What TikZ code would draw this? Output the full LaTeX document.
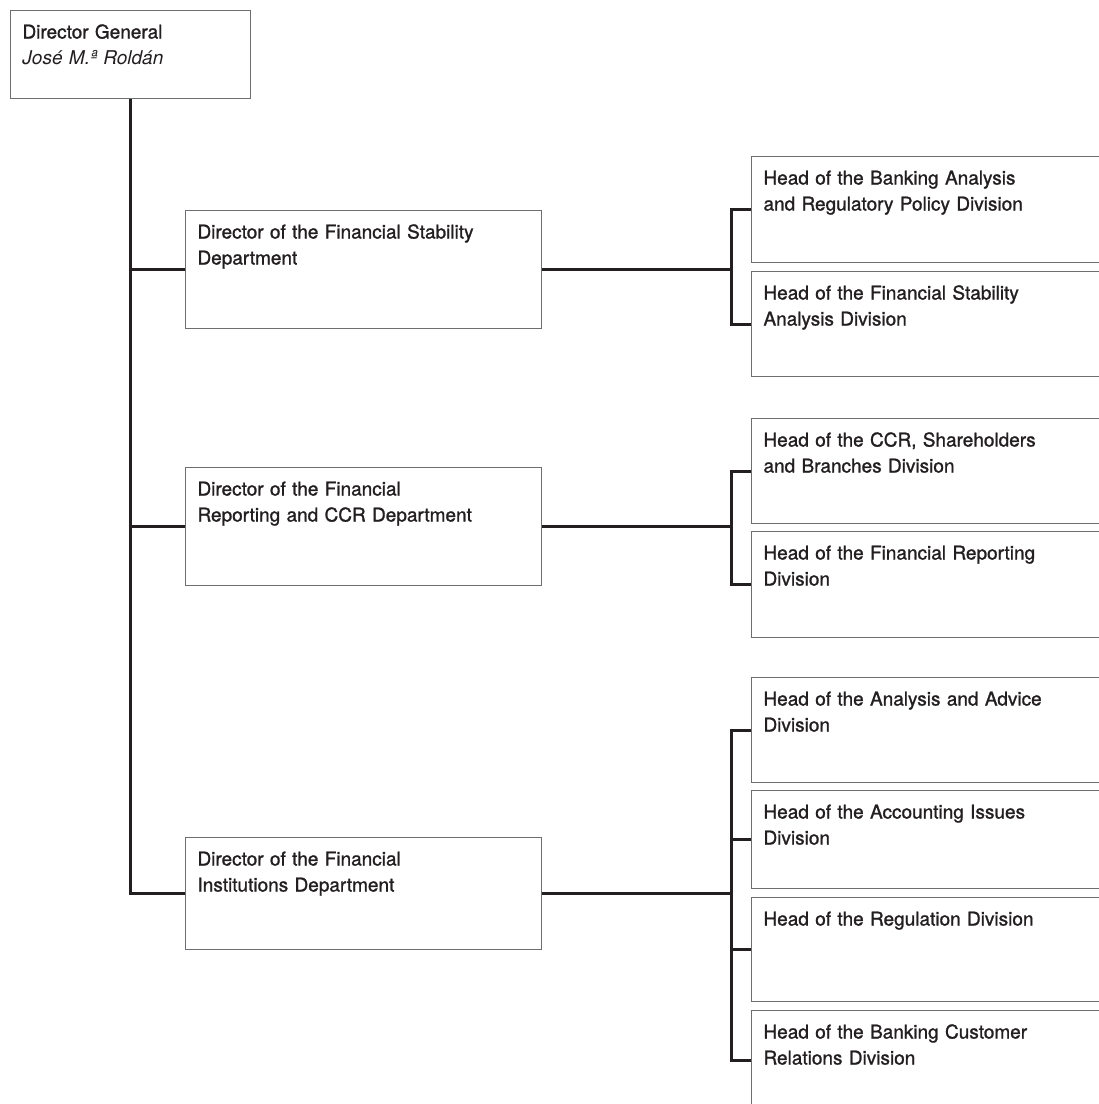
\documentclass[tikz,border=0pt]{standalone}
\usepackage{fontspec}
\setmainfont{TeX Gyre Heros}
\newfontfamily\medfont{TeX Gyre Heros}[FakeBold=1.2]
\usetikzlibrary{positioning}
\definecolor{boxgray}{HTML}{6D6E71}
\definecolor{ink}{HTML}{231F20}

\begin{document}
\begin{tikzpicture}[x=1pt, y=-1pt,
    every node/.style={font=\fontsize{19}{26}\medfont, text=ink},
    orgbox/.style={draw=boxgray, line width=1pt, anchor=north west, align=left,
      inner xsep=12pt, inner ysep=0pt, text height=28pt, text depth=#1},
    dgbox/.style={orgbox=60pt, text width=216pt},
    deptbox/.style={orgbox=90pt, text width=332pt},
    headbox/.style={orgbox=#1, text width=376pt},
    headbox/.default=77pt,
    link/.style={draw=ink, line width=3pt, line join=miter}]
    \useasboundingbox (0,0) rectangle (1099,1104);
    \clip (0,0) rectangle (1099,1104);

    % director general
    \node[dgbox] (dg) at (10,10) {Director General\\ {\normalfont\itshape José M.ª Roldán}};

    % departments
    \node[deptbox] (d1) at (185,210) {Director of the Financial Stability\\ Department};
    \node[deptbox] (d2) at (185,467) {Director of the Financial\\ Reporting and CCR Department};
    \node[deptbox, orgbox=84pt] (d3) at (185,837) {Director of the Financial\\ Institutions Department};

    % divisions
    \node[headbox=78pt] (r1) at (751,156) {Head of the Banking Analysis\\ and Regulatory Policy Division};
    \node[headbox] (r2) at (751,271) {Head of the Financial Stability\\ Analysis Division};
    \node[headbox] (r3) at (751,418) {Head of the CCR, Shareholders\\ and Branches Division};
    \node[headbox=78pt] (r4) at (751,531) {Head of the Financial Reporting\\ Division};
    \node[headbox] (r5) at (751,677) {Head of the Analysis and Advice\\ Division};
    \node[headbox=70pt] (r6) at (751,790) {Head of the Accounting Issues\\ Division};
    \node[headbox=76pt] (r7) at (751,897) {Head of the Regulation Division};
    \node[headbox=72pt] (r8) at (751,1010) {Head of the Banking Customer\\ Relations Division};

    % trunk
    \draw[link] (dg.south) |- (d3.west);
    \draw[link] (d1.west) -- (d1.west -| dg.south);
    \draw[link] (d2.west) -- (d2.west -| dg.south);

    % brackets
    \path (r1.west) ++(-20,0) coordinate (k1);
    \path (r3.west) ++(-20,0) coordinate (k2);
    \path (r5.west) ++(-20,0) coordinate (k3);
    \draw[link] (d1.east) -- (k1 |- d1.east);
    \draw[link] (r1.west) -- (k1) |- (r2.west);
    \draw[link] (d2.east) -- (k2 |- d2.east);
    \draw[link] (r3.west) -- (k2) |- (r4.west);
    \draw[link] (d3.east) -- (k3 |- d3.east);
    \draw[link] (r5.west) -- (k3) |- (r8.west);
    \draw[link] (r6.west) -- (r6.west -| k3);
    \draw[link] (r7.west) -- (r7.west -| k3);
  \end{tikzpicture}
\end{document}
